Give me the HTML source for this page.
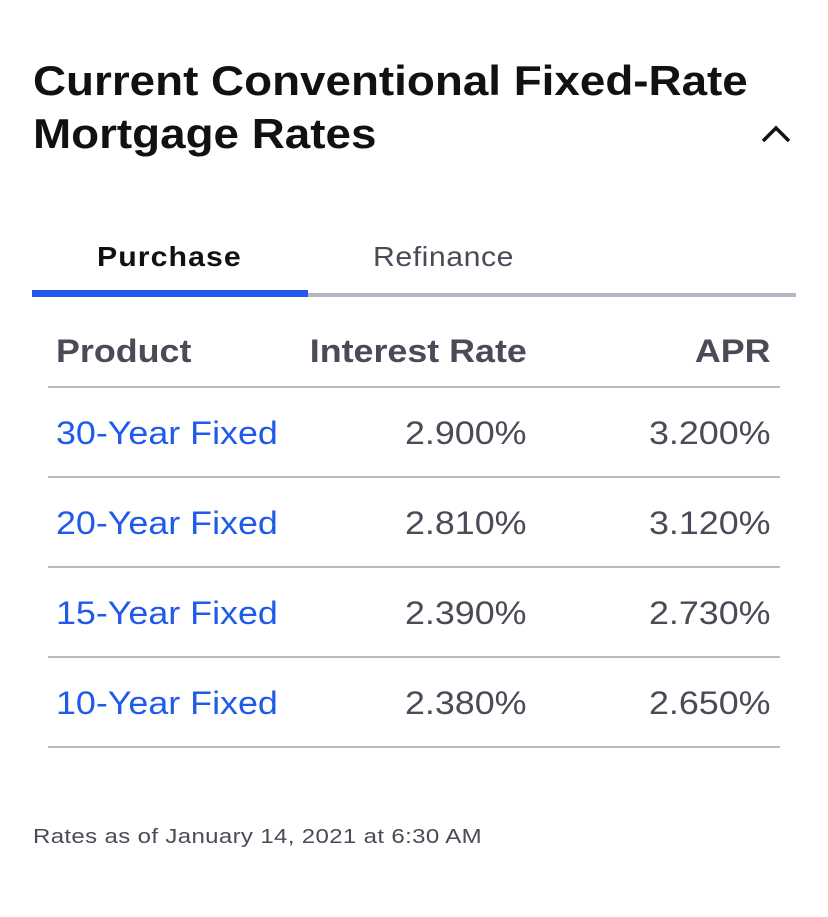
<!DOCTYPE html>
<html><head><style>
body{margin:0;width:828px;height:917px;background:#fff;font-family:"Liberation Sans",sans-serif;position:relative;overflow:hidden}
.a{position:absolute;white-space:nowrap}
.L{transform-origin:left center}
.R{transform-origin:right center}
.t{left:33px;font-size:42px;font-weight:bold;color:#111;transform:scaleX(1.09)}
.h{font-size:32px;font-weight:bold;color:#4a4b57;transform:scaleX(1.12)}
.r{font-size:32px;color:#4a4b57;transform:scaleX(1.12)}
.p{font-size:32px;color:#1f5ae8;left:56px;transform:scaleX(1.12)}
.line{position:absolute;left:48px;width:732px;height:2px;background:#b8bac4}
</style></head><body>
<div class="a t L" style="top:57px">Current Conventional Fixed-Rate</div>
<div class="a t L" style="top:110px">Mortgage Rates</div>
<svg class="a" style="left:760px;top:124px" width="32" height="20"><polyline points="3,17 16,4 29,17" fill="none" stroke="#111" stroke-width="3.5"/></svg>
<div class="a L" style="left:97px;top:241px;font-size:28px;font-weight:bold;color:#111;letter-spacing:1px;transform:scaleX(1.08)">Purchase</div>
<div class="a L" style="left:373px;top:241px;font-size:28px;color:#4a4b57;letter-spacing:0.5px;transform:scaleX(1.08)">Refinance</div>
<div class="a" style="left:308px;top:293px;width:488px;height:4px;background:#b3b6c2"></div>
<div class="a" style="left:32px;top:290px;width:276px;height:7px;background:#2458ec"></div>
<div class="a h L" style="left:56px;top:333px">Product</div>
<div class="a h R" style="right:301px;top:333px">Interest Rate</div>
<div class="a h R" style="right:57px;top:333px">APR</div>
<div class="line" style="top:386px"></div>
<div class="a p L" style="top:415px">30-Year Fixed</div><div class="a r R" style="right:301px;top:415px">2.900%</div><div class="a r R" style="right:57px;top:415px">3.200%</div>
<div class="line" style="top:476px"></div>
<div class="a p L" style="top:505px">20-Year Fixed</div><div class="a r R" style="right:301px;top:505px">2.810%</div><div class="a r R" style="right:57px;top:505px">3.120%</div>
<div class="line" style="top:566px"></div>
<div class="a p L" style="top:595px">15-Year Fixed</div><div class="a r R" style="right:301px;top:595px">2.390%</div><div class="a r R" style="right:57px;top:595px">2.730%</div>
<div class="line" style="top:656px"></div>
<div class="a p L" style="top:685px">10-Year Fixed</div><div class="a r R" style="right:301px;top:685px">2.380%</div><div class="a r R" style="right:57px;top:685px">2.650%</div>
<div class="line" style="top:746px"></div>
<div class="a L" style="left:33px;top:826px;font-size:20px;color:#4a4b57;letter-spacing:0.3px;transform:scaleX(1.2)">Rates as of January 14, 2021 at 6:30 AM</div>
</body></html>
